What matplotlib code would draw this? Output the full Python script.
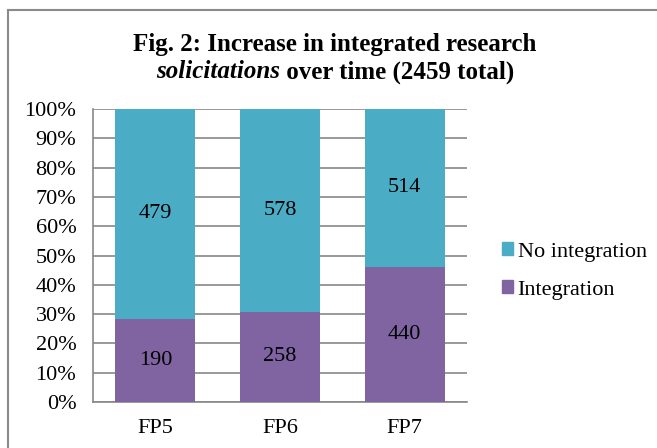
import numpy as np
import matplotlib
matplotlib.use('Agg')
import matplotlib.pyplot as plt
from matplotlib.lines import Line2D
from matplotlib.ticker import PercentFormatter

categories = ["FP5", "FP6", "FP7"]
integration = [190, 258, 440]
no_integration = [479, 578, 514]

color_int = "#8064A2"
color_no = "#4BACC6"
grid_color = "#878787"

plt.rcParams['font.family'] = ['Liberation Serif', 'DejaVu Serif']

fig = plt.figure(figsize=(6.57, 4.48), dpi=100)
ax = fig.add_axes([93 / 657, 46 / 448, 374 / 657, 293 / 448])

integ = np.array(integration, dtype=float)
noint = np.array(no_integration, dtype=float)
total = integ + noint
p_int = integ / total * 100
p_no = noint / total * 100
x = np.arange(len(categories))

ax.bar(x, p_int, width=0.64, color=color_int, zorder=3)
ax.bar(x, p_no, width=0.64, bottom=p_int, color=color_no, zorder=3)

for i in range(len(categories)):
    ax.text(x[i], p_int[i] / 2, str(integration[i]), ha='center', va='center',
            fontsize=16, zorder=4)
    ax.text(x[i], p_int[i] + p_no[i] / 2, str(no_integration[i]), ha='center',
            va='center', fontsize=16, zorder=4)

ax.set_xlim(-0.5, len(categories) - 0.5)
ax.set_ylim(0, 100)
ax.set_yticks(np.arange(0, 101, 10))
ax.yaxis.set_major_formatter(PercentFormatter(decimals=0))
ax.set_xticks(x)
ax.set_xticklabels(categories)
ax.tick_params(axis='both', length=0, labelsize=16, colors='black')
ax.tick_params(axis='y', pad=12)
ax.tick_params(axis='x', pad=12)
ax.yaxis.grid(True, color=grid_color, linewidth=1.2, zorder=0)
for s in ['top', 'right']:
    ax.spines[s].set_visible(False)
for s in ['left', 'bottom']:
    ax.spines[s].set_color(grid_color)
    ax.spines[s].set_linewidth(1.2)

# legend
handles = [plt.Rectangle((0, 0), 1, 1, color=color_no),
           plt.Rectangle((0, 0), 1, 1, color=color_int)]
fig.legend(handles, ["No integration", "Integration"], loc='center left',
           bbox_to_anchor=(482 / 657, 1 - 271 / 448), frameon=False,
           fontsize=16, handlelength=0.5, handleheight=0.5,
           handletextpad=0.2, labelspacing=0.85)

# title
fig.text(335 / 657, 1 - 45 / 448, "Fig. 2: Increase in integrated research",
         ha='center', va='center', fontsize=18, fontweight='bold')
fig.canvas.draw()
r = fig.canvas.get_renderer()
t1 = fig.text(0, 1 - 72 / 448, "solicitations", ha='left', va='center',
              fontsize=18, fontweight='bold', style='italic')
t2 = fig.text(0, 1 - 72 / 448, " over time (2459 total)", ha='left', va='center',
              fontsize=18, fontweight='bold')
w1 = t1.get_window_extent(r).width
w2 = t2.get_window_extent(r).width
x0 = 335 - (w1 + w2) / 2
t1.set_x(x0 / 657)
t2.set_x((x0 + w1) / 657)

# outer chart border (cropped)
border = "#8a8a8a"
fig.add_artist(Line2D([8 / 657, 1.0], [1 - 10 / 448] * 2, color=border,
                      linewidth=1.5, transform=fig.transFigure))
fig.add_artist(Line2D([8 / 657] * 2, [0, 1 - 10 / 448], color=border,
                      linewidth=1.5, transform=fig.transFigure))

fig.savefig("out.png", dpi=100)
